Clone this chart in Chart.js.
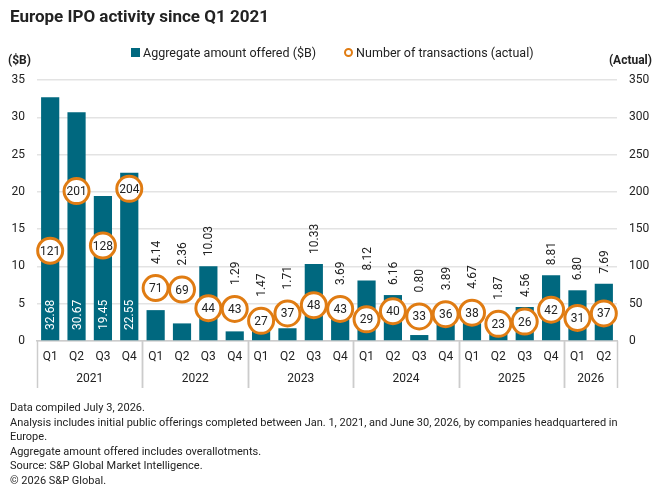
<!DOCTYPE html>
<html>
<head>
<meta charset="utf-8">
<script src="https://cdn.jsdelivr.net/npm/chart.js@4.4.1/dist/chart.umd.min.js"></script>
<style>
  html, body { margin: 0; padding: 0; background: #fff; }
  body { width: 660px; height: 499px; position: relative; overflow: hidden; font-family: Roboto, "Liberation Sans", sans-serif; color: #222; }
  #wrap { position: absolute; left: 0; top: 0; width: 660px; height: 499px; }
  .title { position: absolute; left: 10px; top: 6px; font-size: 17px; font-weight: 700; }
  .axt { position: absolute; top: 53px; font-size: 12px; font-weight: 700; }
  .legend { position: absolute; top: 45px; left: 131px; font-size: 12.5px; display: flex; align-items: center; }
  .legend .sw { display: inline-block; width: 9px; height: 9px; background: #00687f; margin-right: 3px; }
  .legend .ci { display: inline-block; width: 5px; height: 5px; border: 2.5px solid #e07c13; border-radius: 50%; margin-right: 3px; margin-left: 28px; }
  .notes { position: absolute; left: 10px; top: 401px; width: 630px; font-size: 11px; line-height: 14.5px; color: #222; }
  .notes div { margin: 0; }
</style>
</head>
<body>
<div id="wrap"><canvas id="c" width="660" height="499"></canvas></div>
<div class="title">Europe IPO activity since Q1 2021</div>
<div class="axt" style="left:8px">($B)</div>
<div class="axt" style="right:8px">(Actual)</div>
<div class="legend"><span class="sw"></span>Aggregate amount offered ($B)<span class="ci"></span>Number of transactions (actual)</div>
<div class="notes">
  <div>Data compiled July 3, 2026.</div>
  <div>Analysis includes initial public offerings completed between Jan. 1, 2021, and June 30, 2026, by companies headquartered in Europe.</div>
  <div>Aggregate amount offered includes overallotments.</div>
  <div>Source: S&amp;P Global Market Intelligence.</div>
  <div>&copy; 2026 S&amp;P Global.</div>
</div>
<script>
const quarters = ['Q1','Q2','Q3','Q4','Q1','Q2','Q3','Q4','Q1','Q2','Q3','Q4','Q1','Q2','Q3','Q4','Q1','Q2','Q3','Q4','Q1','Q2'];
const years = ['2021','2021','2021','2021','2022','2022','2022','2022','2023','2023','2023','2023','2024','2024','2024','2024','2025','2025','2025','2025','2026','2026'];
const amountOffered = [32.68, 30.67, 19.45, 22.55, 4.14, 2.36, 10.03, 1.29, 1.47, 1.71, 10.33, 3.69, 8.12, 6.16, 0.80, 3.89, 4.67, 1.87, 4.56, 8.81, 6.80, 7.69];
const transactions = [121, 201, 128, 204, 71, 69, 44, 43, 27, 37, 48, 43, 29, 40, 33, 36, 38, 23, 26, 42, 31, 37];
const leftTicks = [0, 5, 10, 15, 20, 25, 30, 35];
const rightTicks = [0, 50, 100, 150, 200, 250, 300, 350];

const TEAL = '#00687f';
const ORANGE = '#e07c13';
const FONT = 'Roboto, "Liberation Sans", sans-serif';

// value labels on bars and inside circles, plus the year row under the quarters
const labelPlugin = {
  id: 'labels',
  afterDatasetsDraw(chart) {
    const ctx = chart.ctx;
    const bars = chart.getDatasetMeta(0).data;
    const pts = chart.getDatasetMeta(1).data;
    const base = chart.scales.y.getPixelForValue(0);
    ctx.save();
    ctx.font = '12px ' + FONT;
    bars.forEach((b, i) => {
      const txt = amountOffered[i].toFixed(2);
      ctx.save();
      if (i < 4) {
        ctx.translate(b.x, base - 11);
        ctx.fillStyle = '#fff';
      } else {
        // above whichever is higher, the bar or its circle
        const top = Math.min(b.y, pts[i].y - 14) - 10;
        ctx.translate(b.x, top);
        ctx.fillStyle = '#222';
      }
      ctx.rotate(-Math.PI / 2);
      ctx.textAlign = 'left';
      ctx.textBaseline = 'middle';
      ctx.fillText(txt, 0, 1);
      ctx.restore();
    });
    ctx.fillStyle = '#222';
    ctx.textAlign = 'center';
    ctx.textBaseline = 'middle';
    pts.forEach((p, i) => {
      ctx.fillText(String(transactions[i]), p.x, p.y + 1);
    });
    ctx.restore();
  },
  afterDraw(chart) {
    const ctx = chart.ctx;
    const area = chart.chartArea;
    const step = (area.right - area.left) / quarters.length;
    ctx.save();
    ctx.strokeStyle = '#cccccc';
    ctx.lineWidth = 1.5;
    ctx.font = '12px ' + FONT;
    ctx.fillStyle = '#222';
    ctx.textAlign = 'center';
    ctx.textBaseline = 'middle';
    let start = 0;
    for (let i = 1; i <= years.length; i++) {
      if (i === years.length || years[i] !== years[start]) {
        const x0 = area.left + start * step;
        const x1 = area.left + i * step;
        ctx.fillText(years[start], (x0 + x1) / 2, area.bottom + 38);
        [x0, x1].forEach(x => {
          ctx.beginPath();
          ctx.moveTo(Math.round(x) + 0.5, area.bottom);
          ctx.lineTo(Math.round(x) + 0.5, area.bottom + 47);
          ctx.stroke();
        });
        start = i;
      }
    }
    ctx.restore();
  }
};

new Chart(document.getElementById('c'), {
  type: 'bar',
  data: {
    labels: quarters,
    datasets: [
      {
        label: 'Aggregate amount offered ($B)',
        data: amountOffered,
        backgroundColor: TEAL,
        borderWidth: 0,
        categoryPercentage: 1,
        barPercentage: 0.69,
        yAxisID: 'y',
        order: 2
      },
      {
        type: 'line',
        label: 'Number of transactions (actual)',
        data: transactions,
        showLine: false,
        pointRadius: 12.5,
        pointBorderWidth: 3,
        pointBackgroundColor: '#fff',
        pointBorderColor: ORANGE,
        yAxisID: 'y1',
        order: 1
      }
    ]
  },
  options: {
    responsive: false,
    animation: false,
    events: [],
    layout: { padding: { top: 80, bottom: 98, left: 0, right: 0 } },
    plugins: { legend: { display: false }, tooltip: { enabled: false } },
    scales: {
      x: {
        grid: { display: false, drawTicks: false },
        border: { color: '#cccccc', width: 1.5 },
        ticks: { color: '#222', font: { family: FONT, size: 12 }, padding: 9, maxRotation: 0, autoSkip: false },
        afterFit(s) { s.height = 60; }
      },
      y: {
        position: 'left',
        min: 0, max: 35,
        afterBuildTicks(s) { s.ticks = leftTicks.map(v => ({ value: v })); },
        grid: { color: '#e3e3e3', lineWidth: 1.5, drawTicks: false },
        border: { display: false },
        ticks: { color: '#222', font: { family: FONT, size: 12 }, padding: 12 },
        afterFit(s) { s.width = 37; }
      },
      y1: {
        position: 'right',
        min: 0, max: 350,
        afterBuildTicks(s) { s.ticks = rightTicks.map(v => ({ value: v })); },
        grid: { display: false, drawTicks: false },
        border: { display: false },
        ticks: { color: '#222', font: { family: FONT, size: 12 }, padding: 12 },
        afterFit(s) { s.width = 43; }
      }
    }
  },
  plugins: [labelPlugin]
});
</script>
</body>
</html>
